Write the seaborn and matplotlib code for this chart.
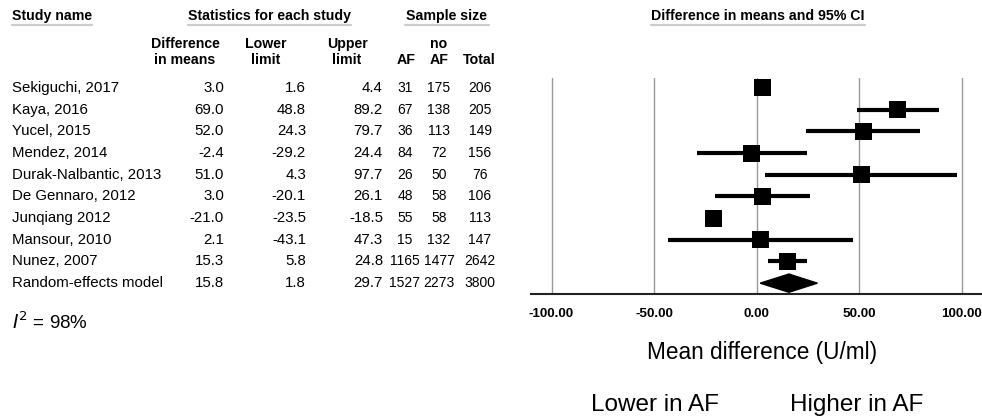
import numpy as np
import pandas as pd
import matplotlib
matplotlib.use("Agg")
import matplotlib.pyplot as plt
import matplotlib.transforms as mtransforms
import seaborn as sns

studies = ["Sekiguchi, 2017", "Kaya, 2016", "Yucel, 2015", "Mendez, 2014",
           "Durak-Nalbantic, 2013", "De Gennaro, 2012", "Junqiang 2012",
           "Mansour, 2010", "Nunez, 2007"]
diff = [3.0, 69.0, 52.0, -2.4, 51.0, 3.0, -21.0, 2.1, 15.3]
lower = [1.6, 48.8, 24.3, -29.2, 4.3, -20.1, -23.5, -43.1, 5.8]
upper = [4.4, 89.2, 79.7, 24.4, 97.7, 26.1, -18.5, 47.3, 24.8]
n_af = [31, 67, 36, 84, 26, 48, 55, 15, 1165]
n_noaf = [175, 138, 113, 72, 50, 58, 58, 132, 1477]
n_total = [206, 205, 149, 156, 76, 106, 113, 147, 2642]

pooled_name = "Random-effects model"
pooled = [15.8, 1.8, 29.7]
pooled_n = [1527, 2273, 3800]
i2_text = "98%"

x_ticks = [-100, -50, 0, 50, 100]

df = pd.DataFrame({"study": studies, "diff": diff, "lower": lower, "upper": upper,
                   "af": n_af, "noaf": n_noaf, "total": n_total})
df["row"] = np.arange(len(df))

sns.set_theme(style="white")
plt.rcParams["font.family"] = ["Liberation Sans", "DejaVu Sans"]
plt.rcParams["text.color"] = "black"
plt.rcParams["xtick.color"] = "black"

W, H = 982, 420
fig = plt.figure(figsize=(W / 100, H / 100), dpi=100)

def fx(px):
    return px / W

def fy(py):
    return 1 - py / H

# forest panel
ax = fig.add_axes([fx(531), fy(294), fx(982) - fx(531), fy(78) - fy(294)])
ax.set_xlim(-110, 110)
ax.set_ylim(9.5, -0.46)

for t in x_ticks:
    ax.axvline(t, color="#999999", lw=1.0, zorder=0)

ax.hlines(df["row"], df["lower"], df["upper"], color="black", lw=3.0, zorder=2)
sns.scatterplot(data=df, x="diff", y="row", marker="s", color="black", s=150,
                edgecolor="none", ax=ax, legend=False, zorder=3)

prow = len(df)
est, lo, hi = pooled
ax.fill([lo, est, hi, est], [prow, prow - 0.42, prow, prow + 0.42], color="black", zorder=3)

for side in ["top", "left", "right"]:
    ax.spines[side].set_visible(False)
ax.spines["bottom"].set_color("#222222")
ax.spines["bottom"].set_linewidth(1.5)
ax.set_xticks(x_ticks)
ax.set_xticklabels([f"{t:.2f}" for t in x_ticks], fontsize=9.7, fontweight="bold")
ax.tick_params(axis="x", length=0, pad=10)
ax.set_yticks([])
ax.set_xlabel("")
ax.set_ylabel("")

fig.text(fx(762), fy(352), "Mean difference (U/ml)", fontsize=16.3, ha="center", va="center")
fig.text(fx(655), fy(405), "Lower in AF", fontsize=17.5, ha="center", va="center")
fig.text(fx(857), fy(405), "Higher in AF", fontsize=17.5, ha="center", va="center")

# header
hdr = dict(fontsize=10.2, fontweight="bold")
fig.text(fx(12), fy(16), "Study name", ha="left", va="center", **hdr)
fig.text(fx(269), fy(16), "Statistics for each study", ha="center", va="center", **hdr)
fig.text(fx(447), fy(16), "Sample size", ha="center", va="center", **hdr)
fig.text(fx(758), fy(16), "Difference in means and 95% CI", ha="center", va="center", **hdr)
for x0, x1 in [(12, 92), (188, 351), (405, 489), (651, 865)]:
    fig.add_artist(plt.Line2D([fx(x0), fx(x1)], [fy(25), fy(25)], color="#cccccc", lw=1.6))

sub = [(185, "Difference\nin means"), (266, "Lower\nlimit"), (347, "Upper\nlimit"),
       (406, "\nAF"), (439, "no\nAF"), (479, "\nTotal")]
for px, s in sub:
    fig.text(fx(px), fy(52), s, ha="center", va="center", linespacing=1.1, **hdr)

# table rows aligned with forest rows
tr = mtransforms.blended_transform_factory(fig.transFigure, ax.transData)
rows = list(zip(studies, diff, lower, upper, n_af, n_noaf, n_total))
rows.append((pooled_name, pooled[0], pooled[1], pooled[2], *pooled_n))
fs = 10.8
fn = 10.0
for i, (name, d, l, u, a, na, tot) in enumerate(rows):
    fig.text(fx(12), i, name, transform=tr, ha="left", va="center", fontsize=fs)
    fig.text(fx(224), i, f"{d:.1f}", transform=tr, ha="right", va="center", fontsize=fs)
    fig.text(fx(306), i, f"{l:.1f}", transform=tr, ha="right", va="center", fontsize=fs)
    fig.text(fx(383), i, f"{u:.1f}", transform=tr, ha="right", va="center", fontsize=fs)
    fig.text(fx(405), i, f"{a}", transform=tr, ha="center", va="center", fontsize=fn)
    fig.text(fx(439), i, f"{na}", transform=tr, ha="center", va="center", fontsize=fn)
    fig.text(fx(480), i, f"{tot}", transform=tr, ha="center", va="center", fontsize=fn)

fig.text(fx(12), fy(322), r"$\mathit{I}^2$ = " + i2_text, ha="left", va="center", fontsize=13.5)

fig.savefig("out.png", dpi=100)
